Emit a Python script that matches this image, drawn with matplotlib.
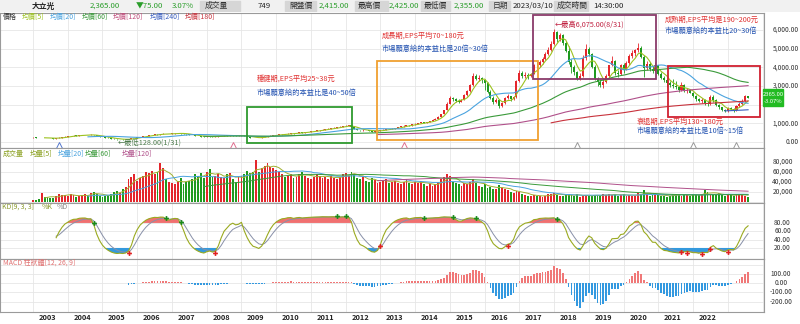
import numpy as np
import matplotlib
matplotlib.use('Agg')
import matplotlib.pyplot as plt
from matplotlib.patches import Rectangle

plt.rcParams['font.family'] = ['Noto Sans CJK TC', 'DejaVu Sans']

# monthly bars, 2002/08 .. 2023/03 (one row per year)
close_rows = [
    [245, 228, 205, 232, 215],
    [210, 198, 186, 205, 240, 262, 288, 305, 330, 345, 338, 360],
    [372, 385, 378, 395, 352, 318, 286, 262, 240, 218, 186, 158],
    [140, 148, 138, 145, 160, 192, 232, 258, 286, 302, 330, 355],
    [388, 410, 402, 430, 445, 418, 432, 455, 470, 482, 452, 425],
    [405, 382, 360, 335, 318, 292, 280, 302, 296, 275, 290, 315],
    [330, 345, 338, 352, 348, 330, 342, 355, 318, 268, 235, 218],
    [232, 225, 262, 298, 332, 345, 372, 390, 405, 428, 420, 452],
    [470, 462, 488, 512, 505, 530, 548, 575, 598, 620, 645, 668],
    [690, 712, 735, 770, 790, 815, 850, 875, 905, 820, 700, 640],
    [620, 660, 640, 600, 560, 575, 610, 640, 665, 700, 690, 720],
    [760, 800, 830, 870, 910, 890, 940, 980, 1010, 1050, 1020, 1060],
    [1120, 1180, 1250, 1350, 1500, 1700, 2050, 2350, 2280, 2200, 2150, 2260],
    [2500, 2750, 3050, 3550, 3400, 3450, 3300, 3150, 2700, 2350, 2150, 2250],
    [1950, 2100, 2350, 2450, 2300, 2400, 3250, 3700, 3550, 3600, 3550, 3650],
    [4150, 4100, 4300, 4450, 4700, 4950, 5250, 5900, 5500, 5750, 5300, 4900],
    [4300, 4000, 3750, 3400, 3550, 4500, 5000, 4700, 4000, 3400, 3200, 3050],
    [3200, 3550, 4100, 4350, 3700, 3650, 4100, 3850, 4250, 4600, 4750, 4950],
    [5050, 4550, 3950, 4200, 3900, 3800, 4100, 3650, 3450, 3300, 3150, 3050],
    [3000, 2950, 2800, 3050, 2750, 2800, 2650, 2450, 2300, 2200, 2250, 2100],
    [2050, 2400, 2250, 2000, 1850, 1700, 1650, 1800, 1750, 1700, 1950, 2050],
    [2200, 2440, 2365],
]
high_rows = [
    [258, 250, 232, 240, 236],
    [222, 215, 202, 212, 246, 270, 296, 318, 338, 356, 352, 368],
    [385, 398, 392, 408, 398, 356, 322, 292, 268, 245, 222, 190],
    [162, 156, 152, 150, 165, 198, 240, 265, 292, 312, 336, 362],
    [398, 420, 418, 438, 458, 450, 440, 462, 478, 495, 488, 458],
    [430, 410, 388, 365, 342, 322, 298, 310, 308, 298, 296, 322],
    [338, 352, 350, 360, 358, 352, 348, 362, 358, 322, 272, 240],
    [240, 238, 268, 305, 340, 355, 380, 398, 414, 436, 432, 460],
    [482, 476, 495, 520, 518, 538, 556, 584, 606, 630, 655, 676],
    [702, 725, 745, 782, 805, 830, 862, 890, 920, 908, 825, 712],
    [655, 672, 668, 645, 605, 590, 622, 652, 678, 712, 710, 730],
    [772, 815, 845, 885, 930, 925, 955, 995, 1030, 1070, 1060, 1075],
    [1140, 1205, 1275, 1380, 1520, 1730, 2120, 2450, 2420, 2350, 2280, 2300],
    [2560, 2800, 3120, 3715, 3650, 3600, 3500, 3380, 3200, 2800, 2450, 2350],
    [2300, 2150, 2400, 2550, 2480, 2450, 3300, 3850, 3800, 3750, 3700, 3700],
    [4200, 4300, 4400, 4550, 4800, 5100, 5400, 6075, 5950, 5850, 5800, 5400],
    [5150, 4450, 4150, 3800, 3700, 4650, 5250, 5100, 4750, 4100, 3500, 3400],
    [3350, 3650, 4150, 4600, 4400, 3850, 4200, 4250, 4350, 4700, 4950, 5000],
    [5300, 5150, 4650, 4350, 4300, 4050, 4300, 4150, 3750, 3550, 3400, 3250],
    [3350, 3250, 3000, 3200, 3100, 2900, 2850, 2700, 2500, 2350, 2350, 2300],
    [2200, 2500, 2500, 2300, 2050, 1900, 1780, 1900, 1850, 1800, 2000, 2150],
    [2300, 2500, 2480],
]
low_rows = [
    [236, 220, 198, 202, 210],
    [204, 192, 178, 184, 202, 236, 258, 282, 300, 326, 330, 334],
    [355, 365, 366, 372, 345, 310, 278, 255, 232, 210, 180, 150],
    [128, 136, 132, 134, 142, 158, 188, 228, 255, 280, 298, 325],
    [352, 382, 392, 398, 425, 410, 412, 428, 450, 465, 445, 418],
    [398, 375, 352, 328, 310, 285, 270, 276, 288, 268, 270, 286],
    [308, 326, 330, 336, 340, 322, 326, 338, 312, 255, 225, 205],
    [212, 218, 222, 258, 292, 328, 340, 366, 385, 400, 412, 418],
    [445, 452, 458, 485, 492, 500, 525, 542, 570, 592, 615, 640],
    [662, 685, 705, 730, 765, 785, 812, 842, 868, 810, 690, 625],
    [600, 615, 628, 590, 548, 552, 568, 602, 632, 660, 675, 682],
    [712, 752, 792, 822, 862, 875, 882, 930, 968, 1000, 1005, 1012],
    [1050, 1105, 1165, 1240, 1340, 1480, 1690, 2030, 2200, 2120, 2080, 2120],
    [2230, 2450, 2700, 3000, 3300, 3250, 3150, 2800, 2600, 2300, 2050, 2100],
    [1800, 1850, 2050, 2300, 2200, 2250, 2380, 3200, 3450, 3450, 3400, 3500],
    [3650, 3950, 4000, 4200, 4400, 4650, 4850, 5200, 5350, 5400, 5200, 4800],
    [4200, 3700, 3600, 3300, 3300, 3500, 4400, 4600, 3950, 3300, 3000, 2950],
    [2900, 3150, 3500, 4050, 3600, 3500, 3600, 3700, 3850, 4150, 4500, 4600],
    [4800, 4500, 3500, 3850, 3800, 3700, 3750, 3600, 3350, 3200, 2950, 2950],
    [2900, 2850, 2700, 2750, 2700, 2650, 2600, 2400, 2200, 2150, 2100, 2000],
    [1950, 2000, 2150, 1950, 1780, 1650, 1580, 1600, 1700, 1580, 1650, 1900],
    [2000, 2150, 2355],
]
vol_rows = [
    [3000, 2800, 6000, 17000, 9000],
    [9000, 8000, 7000, 12000, 16000, 14000, 13000, 12000, 15000, 13000, 9000, 11000],
    [14000, 16000, 12000, 18000, 20000, 15000, 12000, 10000, 11000, 14000, 16000, 20000],
    [22000, 18000, 25000, 30000, 45000, 50000, 55000, 42000, 48000, 52000, 60000, 58000],
    [62000, 55000, 60000, 77000, 68000, 45000, 40000, 38000, 35000, 42000, 48000, 36000],
    [40000, 42000, 45000, 55000, 52000, 58000, 48000, 60000, 65000, 50000, 52000, 55000],
    [50000, 48000, 55000, 58000, 45000, 40000, 50000, 52000, 55000, 62000, 58000, 60000],
    [83000, 60000, 68000, 72000, 77000, 70000, 68000, 64000, 60000, 55000, 50000, 52000],
    [55000, 48000, 50000, 56000, 60000, 52000, 48000, 46000, 50000, 55000, 52000, 48000],
    [50000, 46000, 52000, 48000, 45000, 50000, 55000, 58000, 52000, 60000, 55000, 48000],
    [45000, 50000, 42000, 40000, 48000, 44000, 38000, 40000, 42000, 45000, 38000, 40000],
    [42000, 38000, 36000, 40000, 45000, 38000, 35000, 40000, 38000, 42000, 36000, 32000],
    [35000, 32000, 36000, 40000, 45000, 50000, 55000, 52000, 40000, 38000, 35000, 32000],
    [38000, 35000, 40000, 45000, 38000, 32000, 30000, 35000, 28000, 30000, 26000, 25000],
    [33000, 28000, 25000, 23000, 20000, 18000, 22000, 20000, 16000, 14000, 12000, 11000],
    [14000, 12000, 11000, 10000, 12000, 15000, 16000, 18000, 14000, 12000, 11000, 13000],
    [16000, 14000, 12000, 15000, 10000, 12000, 14000, 12000, 11000, 14000, 13000, 12000],
    [15000, 13000, 15000, 14000, 16000, 12000, 13000, 15000, 12000, 14000, 12000, 11000],
    [18000, 16000, 23000, 15000, 12000, 14000, 15000, 13000, 12000, 11000, 10000, 12000],
    [16000, 15000, 14000, 12000, 15000, 13000, 12000, 16000, 14000, 13000, 15000, 23000],
    [20000, 16000, 15000, 14000, 18000, 13000, 12000, 15000, 13000, 12000, 16000, 14000],
    [15000, 12000, 9000],
]
years = list(range(2003, 2023))
first_jan = 5                      # 2003/01 is bar #5
event_months = [9, 69, 128, 188, 228, 243]
event_colors = ['#5577cc', '#e07090', '#e07090', '#999999', '#999999', '#999999']

close = np.array(sum(close_rows, []), float)
high = np.array(sum(high_rows, []), float)
low = np.array(sum(low_rows, []), float)
vol = np.array(sum(vol_rows, []), float)
n = len(close)
x = np.arange(n)
opens = np.r_[close[0], close[:-1]]
high = np.maximum(high, np.maximum(opens, close))
low = np.minimum(low, np.minimum(opens, close))
up = close >= opens

RED, GRN = '#e4262c', '#1f9a1f'
col = np.where(up, RED, GRN)


def ma(a, w):
    out = np.full(len(a), np.nan)
    c = np.cumsum(np.r_[0, a])
    if len(a) >= w:
        out[w - 1:] = (c[w:] - c[:-w]) / w
    return out


def ema(a, span):
    k = 2 / (span + 1)
    out = np.empty_like(a)
    out[0] = a[0]
    for i in range(1, len(a)):
        out[i] = out[i - 1] + k * (a[i] - out[i - 1])
    return out


# KD(9,3,3)
K = np.full(n, np.nan)
D = np.full(n, np.nan)
k = d = 50.0
for i in range(8, n):
    lo, hi = low[i - 8:i + 1].min(), high[i - 8:i + 1].max()
    rsv = (close[i] - lo) / (hi - lo) * 100 if hi > lo else 50
    k = k * 2 / 3 + rsv / 3
    d = d * 2 / 3 + k / 3
    K[i], D[i] = k, d

# MACD(12,26,9)
dif = ema(close, 12) - ema(close, 26)
osc = dif - ema(dif, 9)
osc[:33] = np.nan

W, H = 800, 324
fig = plt.figure(figsize=(8, 3.24), dpi=100)
fig.patch.set_facecolor('white')


def box(top, bottom, left=0, right=764):
    return [left / W, 1 - bottom / H, (right - left) / W, (bottom - top) / H]


ax1 = fig.add_axes(box(12.5, 147.5))
ax2 = fig.add_axes(box(147.5, 203), sharex=ax1)
ax3 = fig.add_axes(box(203, 258.5), sharex=ax1)
ax4 = fig.add_axes(box(258.5, 312), sharex=ax1)
axes = [ax1, ax2, ax3, ax4]

ax1.set_xlim(-11.4, 252.5)
ax1.set_ylim(-295, 6936)
ax2.set_ylim(-2600, 108400)
ax3.set_ylim(-5.3, 127.9)
ax4.set_ylim(-315, 272.5)

for ax in axes:
    for s in ax.spines.values():
        s.set_color('#9a9a9a')
        s.set_linewidth(0.8)
    ax.tick_params(left=False, right=False, bottom=False, labelleft=False,
                   labelbottom=False)
    for g in range(0, n + 12, 12):
        ax.axvline(g, color='#e6e6e6', lw=0.6, zorder=0)
    ax.set_axisbelow(True)

# price panel
ax1.set_yticks(range(0, 7000, 1000))
ax1.grid(axis='y', color='#e6e6e6', lw=0.6)
ax1.vlines(x, low, high, colors=col, lw=0.6, zorder=3)
ax1.bar(x, np.maximum(np.abs(close - opens), 12), bottom=np.minimum(opens, close),
        width=0.7, color=col, zorder=3)
ma_set = [(5, '#9cc21f'), (20, '#4aa3df'), (60, '#3a9a3a'), (120, '#b0508a'),
          (240, '#3a5fc0'), (180, '#c8323c')]
for w, c in ma_set:
    ax1.plot(x, ma(close, w), color=c, lw=0.8, zorder=4)

for m, c in zip(event_months, event_colors):
    ax1.plot(m, 0.015, marker='^', ms=4, mfc='white', mec=c, mew=0.7,
             transform=ax1.get_xaxis_transform(), zorder=6)

# annotation boxes and notes
boxes = [((73.9, -54), 36.3, 1929, '#2e9a2e'),
         ((118.8, 107), 55.6, 4233, '#f0a030'),
         ((172.7, 3375), 42.5, 3425, '#8a3a6a'),
         ((219.3, 1340), 31.8, 2730, '#d02030')]
for (bx, by), bw, bh, c in boxes:
    ax1.add_patch(Rectangle((bx, by), bw, bh, fill=False, ec=c, lw=1.3, zorder=7))

RTXT, BTXT = '#e03030', '#2050b0'
notes = [(77.4, 3375, '穩健期,EPS平均25~38元', RTXT),
         (77.4, 2625, '市場願意給的本益比是40~50倍', BTXT),
         (120.5, 5700, '成長期,EPS平均70~180元', RTXT),
         (120.5, 4980, '市場願意給的本益比是20倍~30倍', BTXT),
         (180.3, 6270, '←最高6,075.00(8/31)', '#c02040'),
         (218.3, 6535, '成熟期,EPS平均是190~200元', RTXT),
         (218.3, 5960, '市場願意給的本益比20~30倍', BTXT),
         (208.6, 1070, '衰退期,EPS平均130~180元', RTXT),
         (208.6, 590, '市場願意給的本益比是10倍~15倍', BTXT),
         (29.4, -54, '←最低128.00(1/31)', '#4a7a4a')]
for tx, ty, s, c in notes:
    ax1.text(tx, ty, s, color=c, fontsize=5.2, va='center', ha='left', zorder=8)

# volume panel
ax2.set_yticks(range(0, 100000, 20000))
ax2.grid(axis='y', color='#e6e6e6', lw=0.6)
ax2.bar(x, vol, width=0.65, color=col, zorder=3)
for w, c in [(5, '#a0b030'), (20, '#4aa3df'), (60, '#3a9a3a'), (120, '#b0508a')]:
    ax2.plot(x, ma(vol, w), color=c, lw=0.7, zorder=4)

# KD panel
ax3.set_yticks([20, 40, 60, 80])
ax3.grid(axis='y', color='#e6e6e6', lw=0.6)
ax3.fill_between(x, 80, K, where=K > 80, interpolate=True, color='#f07070', lw=0, zorder=2)
ax3.fill_between(x, 20, K, where=K < 20, interpolate=True, color='#3399dd', lw=0, zorder=2)
ax3.plot(x, D, color='#8890a8', lw=0.7, zorder=3)
ax3.plot(x, K, color='#9aaa20', lw=0.8, zorder=4)
for i in range(9, n):
    if np.isnan(K[i - 1]):
        continue
    if K[i - 1] > D[i - 1] and K[i] <= D[i] and K[i] > 70:
        ax3.plot(i, K[i] + 3, marker='P', ms=3.5, color='#1a8a1a', mew=0, zorder=5)
    if K[i - 1] < D[i - 1] and K[i] >= D[i] and K[i] < 30:
        ax3.plot(i, K[i] - 4, marker='P', ms=3.5, color='#e02020', mew=0, zorder=5)

# MACD panel
ax4.set_yticks([-200, -100, 0, 100, 200])
ax4.grid(axis='y', color='#e6e6e6', lw=0.6)
ax4.bar(x, osc, width=0.6, color=np.where(osc >= 0, '#f07878', '#3399e0'), zorder=3)
ax4.set_xticks([first_jan + 12 * i for i in range(len(years))])
ax4.set_xticklabels([str(y) for y in years], fontsize=5.3, fontweight='bold', color='#222')
ax4.tick_params(labelbottom=True, length=0, pad=1.5)

# right-hand value labels (2,000 sits under the last-price tag)
lab = dict(fontsize=4.8, color='#333', va='center', clip_on=False)
for v in [0, 1000, 3000, 4000, 5000, 6000]:
    ax1.text(799 / 764, v, f'{v:,.2f}', ha='right', transform=ax1.get_yaxis_transform(), **lab)
for v in range(20000, 100000, 20000):
    ax2.text(793 / 764, v, f'{v:,}', ha='right', transform=ax2.get_yaxis_transform(), **lab)
for v in [20, 40, 60, 80]:
    ax3.text(791 / 764, v, f'{v:.2f}', ha='right', transform=ax3.get_yaxis_transform(), **lab)
for v in [100, 0, -100, -200]:
    ax4.text(781 / 764, v, f'{v:,.2f}', ha='center', transform=ax4.get_yaxis_transform(), **lab)

last = close[-1]
ax1.add_patch(Rectangle((763 / 764, last - 455), 20 / 764, 910, color='#22bb22',
                        transform=ax1.get_yaxis_transform(), clip_on=False, zorder=9))
ax1.text(773 / 764, last + 200, f'{last:.2f}', ha='center', va='center', fontsize=4.2,
         color='white', transform=ax1.get_yaxis_transform(), clip_on=False, zorder=10)
ax1.text(773 / 764, last - 210, '-3.07%', ha='center', va='center', fontsize=4.2,
         color='white', transform=ax1.get_yaxis_transform(), clip_on=False, zorder=10)


# legends
def ftxt(px, py, s, c, **kw):
    fig.text(px / W, 1 - py / H, s, color=c, fontsize=5, va='center', ha='left', **kw)


ftxt(3, 17.3, '價格', '#333')
for px, s, c in [(22, '均價[5]', '#9cc21f'), (50, '均價[20]', '#4aa3df'),
                 (82, '均價[60]', '#3a9a3a'), (113, '均價[120]', '#c04a7a'),
                 (150, '均價[240]', '#3a5fc0'), (185, '均價[180]', '#c8323c')]:
    ftxt(px, 17.3, s, c)
for px, s, c in [(3, '成交量', '#8aa020'), (30, '均量[5]', '#8aa020'),
                 (58, '均量[20]', '#4aa3df'), (85, '均量[60]', '#3a9a3a'),
                 (122, '均量[120]', '#b0508a')]:
    ftxt(px, 154, s, c)
ftxt(2, 207, 'KD[9, 3, 3]', '#8a9a2a')
ftxt(42, 207, '%K', '#8a9a2a')
ftxt(57, 207, '%D', '#888888')
ftxt(3, 263, 'MACD 柱狀體[12, 26, 9]', '#e07070')

# header row
hd = fig.add_axes([0, 1 - 12 / H, 1, 12 / H])
hd.set_xlim(0, W)
hd.set_ylim(12, 0)
hd.axis('off')
hd.add_patch(Rectangle((0, 0), W, 11.5, color='#f1f1f1'))
for x0, x1 in [(200, 240), (285, 316), (355, 388), (421, 450), (489, 510), (554, 588)]:
    hd.add_patch(Rectangle((x0, 0.5), x1 - x0, 10.5, color='#d6d6d6'))
GV = '#2a9d2a'
cells = [(32, '大立光', '#222', 'bold'), (90, '2,365.00', GV, 'normal'),
         (136, '▼75.00', GV, 'normal'), (172, '3.07%', GV, 'normal'),
         (205, '成交量', '#333', 'normal'), (258, '749', '#222', 'normal'),
         (289, '開盤價', '#333', 'normal'), (319, '2,415.00', GV, 'normal'),
         (358, '最高價', '#333', 'normal'), (389, '2,425.00', GV, 'normal'),
         (424, '最低價', '#333', 'normal'), (454, '2,355.00', GV, 'normal'),
         (493, '日期', '#333', 'normal'), (513, '2023/03/10', '#222', 'normal'),
         (557, '成交時間', '#333', 'normal'), (593, '14:30:00', '#222', 'normal')]
for px, s, c, fw in cells:
    hd.text(px, 6, s, color=c, fontsize=5.6, fontweight=fw, va='center', ha='left')
hd.axhline(11.8, color='#bbbbbb', lw=0.6)

fig.savefig('out.png', dpi=100)
